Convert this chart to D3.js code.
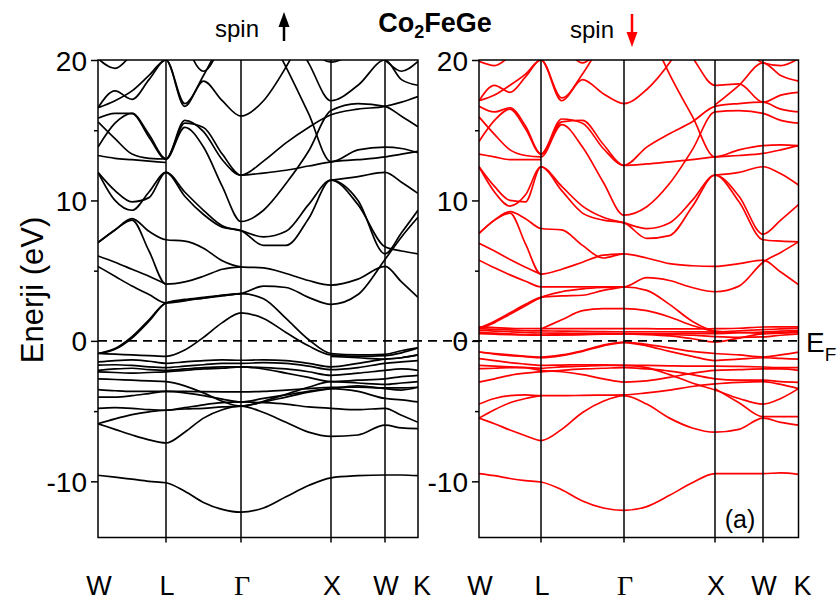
<!DOCTYPE html>
<html><head><meta charset="utf-8">
<script src="https://cdn.jsdelivr.net/npm/d3@7"></script>
<style>body{margin:0;background:#fff} svg{display:block}</style>
</head><body>
<svg id="c" width="840" height="605"></svg>
<script>
const N = null;
// high-symmetry path and sampling grid (in segment units: W=0, L=1, Γ=2, X=3, W=4, K=5)
const kLabels = ["W", "L", "Γ", "X", "W", "K"];
const kGrid = [0, 0.25, 0.5, 0.75, 1, 1.25, 1.5, 1.75, 2, 2.25, 2.5, 2.75, 3, 3.5, 4, 4.5, 5];
const yTicks = [-10, 0, 10, 20];
const yMinorTicks = [-5, 5, 15];

// spin-up bands (eV) at kGrid
const upBands = [
  [20.1, 19.4, 20.4, 21.5, N, N, N, N, N, N, N, N, N, N, N, N, N],
  [N, N, N, N, N, N, N, N, N, N, N, 21, 19.85, 20.6, 21.5, N, N],
  [N, N, N, N, N, N, N, N, N, N, 22.5, 19.8, 17.1, 18.2, 20.0, 18.6, 18.2],
  [N, N, N, N, N, N, N, N, N, N, N, N, N, 22, 20.0, 19.2, 19.9],
  [16.6, 17.8, 17.2, 18.6, 20.0, 16.9, 18.9, 21.5, N, N, N, N, N, N, N, N, N],
  [16.6, 17.1, 17.8, 18.9, 20.0, 16.7, 18.5, 17.1, 16.0, 17.1, 19.5, 22.5, N, N, N, N, N],
  [N, N, N, N, N, 21.5, 19.2, 21.5, N, N, N, N, N, N, N, N, N],
  [15.85, 16.2, 16.2, 14.7, 12.95, 15.5, 15.2, 13.3, 11.8, 11.95, 12.15, 12.45, 12.75, 12.9, 13.1, 13.3, 13.5],
  [13.8, 15.5, 16.2, 14.5, 12.95, 15.7, 14.9, 12.9, 11.8, 12.8, 14.1, 15.2, 16.1, 16.5, 16.7, 17.0, 17.4],
  [15.6, 14.4, 13.3, 13.0, 12.95, 15.2, 13.8, 11.0, 8.5, 9.3, 11.2, 13.5, 16.4, 16.9, 16.7, 16.0, 15.25],
  [13.2, 13.0, 12.9, 12.8, 12.7, N, N, N, N, N, N, N, N, N, N, N, N],
  [N, N, N, N, N, N, N, N, N, 22.5, 19.5, 16.2, 12.75, 13.6, 13.8, 13.7, 13.4],
  [N, N, N, N, N, N, N, N, N, N, N, N, 11.45, 11.7, 12.0, 11.3, 10.5],
  [12.0, 10.0, 9.3, 10.6, 12.0, 10.3, 9.0, 8.1, 7.85, 6.8, 6.8, 8.7, 11.45, 9.7, 6.7, 6.4, 6.2],
  [12.0, 10.7, 9.9, 10.2, 12.0, 10.6, 9.3, 8.2, 7.85, 7.4, 7.8, 9.7, 11.45, 10.0, 6.2, 7.7, 9.3],
  [7.0, 7.9, 8.7, 7.8, 7.2, 7.1, 6.6, 5.7, 5.27, 5.2, 4.8, 4.3, 3.97, 4.4, 5.3, 4.2, 3.1],
  [7.0, 7.9, 8.6, 6.4, 4.04, 4.2, 4.6, 5.1, 5.27, N, N, N, N, N, N, N, N],
  [6.05, 5.6, 5.1, 4.6, 4.04, N, N, N, N, N, N, N, N, N, N, N, N],
  [5.3, 4.6, 3.9, 3.3, 2.7, 2.85, 3.05, 3.25, 3.37, 3.9, 3.8, 3.1, 2.6, 3.3, 5.8, 7.4, 8.8],
  [-0.9, -0.55, 0.3, 1.5, 2.7, 2.9, 3.05, 3.2, 3.37, 3.0, 1.6, 0.1, -0.9, -1.0, -0.95, -0.7, -0.5],
  [-0.9, -0.6, 0.2, 1.4, 2.7, 2.95, 3.1, 3.25, 3.37, N, N, N, N, N, N, N, N],
  [-0.9, -0.95, -1.0, -1.05, -1.1, -0.65, 0.25, 1.3, 2.0, 1.6, 0.6, -0.35, -1.0, -1.1, -1.05, -0.85, -0.5],
  [-9.57, -9.7, -9.85, -10.0, -10.1, -10.7, -11.5, -12.0, -12.2, -11.9, -11.1, -10.3, -9.75, -9.6, -9.55, -9.55, -9.6],
  [-5.9, -6.3, -6.7, -7.05, -7.27, -6.5, -5.5, -4.9, -4.65, -5.1, -5.8, -6.5, -6.8, -6.7, -6.0, -6.2, -6.25],
  [-5.9, -5.55, -5.25, -5.05, -4.94, -4.85, -4.8, -4.7, -4.65, -4.35, -4.0, -3.65, -3.4, -3.2, -3.4, -3.5, -3.3],
  [-4.8, -4.75, -4.8, -4.9, -4.94, -4.75, -4.55, -4.4, -4.35, -4.4, -4.5, -4.7, -4.8, -4.9, -4.8, -5.3, -5.8],
  [-3.47, -3.55, -3.6, -3.6, -3.6, -3.6, -3.62, -3.63, -3.63, -3.6, -3.5, -3.4, -3.3, -3.3, -3.35, -3.35, -3.3],
  [-4.0, -4.0, -3.9, -3.75, -3.6, -3.7, -3.9, -4.15, -4.35, -4.1, -3.85, -3.6, -3.4, -3.6, -4.1, -4.2, -4.35],
  [-2.7, -2.75, -2.8, -2.85, -2.9, -3.2, -3.7, -4.3, -4.65, -4.3, -3.8, -3.3, -2.9, -3.0, -3.1, -3.0, -2.9],
  [-1.5, -1.4, -1.35, -1.45, -1.6, -1.5, -1.4, -1.35, -1.38, -1.35, -1.4, -1.6, -1.85, -1.6, -1.3, -1.2, -1.0],
  [-1.73, -1.7, -1.75, -1.85, -1.9, -1.8, -1.7, -1.6, -1.6, -1.55, -1.6, -1.8, -2.05, -1.9, -1.6, -1.5, -1.4],
  [-2.1, -2.0, -1.95, -2.05, -2.1, -2.0, -1.9, -1.85, -1.85, -1.9, -2.0, -2.2, -2.45, -2.3, -2.1, -2.0, -2.1],
  [-2.2, -2.25, -2.3, -2.25, -2.2, -2.1, -2.0, -1.95, -1.85, -2.0, -2.3, -2.6, -2.9, -2.8, -2.7, -2.55, -2.45],
  [N, N, N, N, N, N, N, N, N, N, N, N, -1.1, -1.2, -1.3, -1.2, -1.0]
];

// spin-down bands (eV) at kGrid
const downBands = [
  [19.9, 19.6, 20.3, 21.5, N, N, N, N, N, N, N, N, N, N, N, N, N],
  [17.1, 18.2, 17.7, 18.8, 20.0, 17.3, 19.0, 21.5, N, N, N, N, N, N, N, N, N],
  [17.1, 17.5, 18.2, 19.0, 20.0, 17.1, 18.6, 17.6, 16.9, 17.9, 19.8, 22.5, N, N, N, N, N],
  [N, N, N, N, N, 21.5, 19.8, 21.5, N, N, N, N, N, N, N, N, N],
  [16.7, 16.3, 16.6, 15.3, 13.3, 15.6, 15.7, 14.0, 12.5, 12.6, 12.75, 12.9, 13.1, 13.2, 13.35, 13.6, 13.9],
  [14.2, 15.7, 16.5, 15.1, 13.3, 15.8, 15.5, 13.7, 12.5, 13.8, 14.75, 15.6, 16.7, 16.9, 17.0, 16.5, 16.3],
  [15.95, 14.7, 13.6, 13.2, 13.1, 15.4, 13.8, 11.3, 8.95, 9.55, 11.2, 13.6, 16.3, 16.4, 16.2, 15.7, 15.5],
  [13.3, 13.1, 12.9, 12.9, 12.9, N, N, N, N, N, N, N, N, N, N, N, N],
  [12.4, 10.6, 9.6, 10.4, 12.4, 10.7, 9.1, 8.6, 8.4, 7.3, 7.5, 9.55, 11.8, 9.9, 7.2, 7.1, 7.05],
  [12.4, 11.0, 10.0, 9.9, 12.4, 11.0, 9.6, 8.8, 8.4, 8.0, 8.4, 10.0, 11.8, 10.3, 7.6, 8.6, 9.7],
  [N, N, N, N, N, N, N, N, N, 22.5, 19.0, 16.0, 13.1, 13.6, 13.9, 13.95, 13.9],
  [N, N, N, N, N, N, N, N, N, N, N, N, 11.8, 12.0, 12.4, 11.9, 11.1],
  [N, N, N, N, N, N, N, N, N, N, 22.5, 20.2, 18.2, 18.3, 17.0, 17.5, 17.7],
  [N, N, N, N, N, N, N, N, N, N, N, N, 16.8, 18.2, 19.8, 18.9, 18.5],
  [N, N, N, N, N, N, N, N, N, N, N, N, N, 21.5, 19.8, 19.6, 20.1],
  [7.65, 8.6, 9.2, 8.7, 8.0, 7.9, 6.8, 5.9, 6.2, 5.9, 5.5, 5.35, 5.3, 5.5, 5.75, 4.9, 4.0],
  [7.65, 8.6, 9.1, 6.9, 4.75, 5.1, 5.6, 6.1, 6.2, N, N, N, N, N, N, N, N],
  [6.95, 6.4, 5.8, 5.25, 4.75, N, N, N, N, N, N, N, N, N, N, N, N],
  [5.75, 5.2, 4.7, 4.25, 3.85, 3.85, 3.85, 3.85, 3.85, 4.5, 4.3, 3.8, 3.5, 3.9, 5.6, 6.3, 7.05],
  [0.9, 1.4, 2.0, 2.6, 3.1, 3.2, 3.25, 3.6, 3.85, N, N, N, N, N, N, N, N],
  [0.85, 1.3, 1.9, 2.5, 3.1, 3.5, 3.7, 3.8, 3.85, 3.6, 2.6, 1.4, 0.7, 0.6, 0.55, 0.6, 0.7],
  [N, N, N, N, 0.85, 1.5, 2.15, 2.3, 2.3, 2.15, 1.7, 1.1, 0.65, N, N, N, N],
  [1.0, 0.95, 0.9, 0.88, 0.87, 0.87, 0.87, 0.87, 0.87, 0.87, 0.85, 0.85, 0.87, 0.9, 0.99, 1.0, 1.0],
  [0.87, 0.82, 0.78, 0.74, 0.71, 0.7, 0.68, 0.66, 0.65, 0.65, 0.65, 0.64, 0.63, 0.72, 0.8, 0.85, 0.9],
  [0.75, 0.7, 0.65, 0.6, 0.56, 0.55, 0.54, 0.53, 0.52, 0.52, 0.52, 0.52, 0.52, 0.58, 0.63, 0.7, 0.75],
  [0.6, 0.55, 0.5, 0.45, 0.42, 0.44, 0.46, 0.48, 0.5, 0.45, 0.35, 0.15, -0.08, 0.2, 0.5, 0.55, 0.6],
  [0.52, 0.48, 0.44, 0.42, 0.4, 0.42, 0.45, 0.5, 0.52, 0.5, 0.45, 0.4, 0.3, 0.25, 0.28, 0.4, 0.5],
  [-0.79, -0.9, -1.0, -1.1, -1.15, -1.0, -0.7, -0.3, -0.08, -0.25, -0.5, -0.75, -0.9, -1.0, -1.15, -1.0, -0.8],
  [-0.79, -0.95, -1.05, -1.12, -1.2, -1.05, -0.75, -0.35, -0.12, -0.35, -0.75, -1.1, -1.4, -1.3, -1.2, -1.25, -1.3],
  [-1.26, -1.4, -1.55, -1.65, -1.74, -1.72, -1.7, -1.7, -1.74, -1.75, -1.78, -1.8, -1.8, -1.82, -1.86, -1.9, -1.9],
  [-1.74, -1.8, -1.85, -1.9, -2.1, -2.2, -2.4, -2.7, -2.93, -2.85, -2.6, -2.3, -2.1, -2.05, -2.0, -2.0, -2.1],
  [-1.98, -1.95, -1.9, -1.9, -1.95, -1.85, -1.8, -1.75, -1.74, -1.9, -2.4, -3.0, -3.5, -4.1, -4.5, -4.1, -3.4],
  [-2.93, -2.7, -2.45, -2.3, -2.2, -2.1, -2.0, -1.95, -1.9, -2.0, -2.15, -2.4, -2.7, -2.8, -2.8, -2.9, -2.95],
  [-4.5, -4.1, -3.9, -3.85, -3.9, -3.9, -3.88, -3.86, -3.85, -3.7, -3.5, -3.25, -3.06, -2.95, -2.9, -3.1, -3.4],
  [-5.5, -4.9, -4.4, -4.1, -3.9, N, N, N, N, N, N, N, N, N, N, N, N],
  [-5.5, -5.9, -6.35, -6.75, -7.1, -6.3, -5.1, -4.3, -3.9, -4.5, -5.5, -6.2, -6.5, -6.3, -5.5, -5.8, -6.0],
  [N, N, N, N, N, N, N, N, N, N, N, N, -3.4, -4.4, -5.4, -5.4, -5.4],
  [-9.45, -9.6, -9.8, -9.95, -10.05, -10.6, -11.4, -11.9, -12.07, -11.8, -11.0, -10.1, -9.45, -9.45, -9.45, -9.4, -9.5]
];

const svg = d3.select("#c");
const FONT = "'Liberation Sans', Arial, sans-serif";
const y = d3.scaleLinear().domain([-14, 20]).range([537.5, 60]);

const panels = [
  { id: "up", bands: upBands, color: "#000", xr: [98, 166, 241, 331, 385, 418] },
  { id: "dn", bands: downBands, color: "#ff0000", xr: [479, 541, 624, 715, 763, 798.5] }
];

panels.forEach(p => {
  const x = d3.scaleLinear().domain([0, 1, 2, 3, 4, 5]).range(p.xr);
  const x0 = p.xr[0], x1 = p.xr[5];
  svg.append("clipPath").attr("id", "clip-" + p.id)
    .append("rect").attr("x", x0).attr("y", y(20)).attr("width", x1 - x0).attr("height", y(-14) - y(20));
  const g = svg.append("g");
  const line = d3.line()
    .defined(d => d[1] !== null)
    .x(d => x(d[0])).y(d => y(d[1]))
    .curve(d3.curveMonotoneX);
  g.append("g").attr("clip-path", `url(#clip-${p.id})`)
    .selectAll("path").data(p.bands).join("path")
    .attr("d", b => line(b.map((v, i) => [kGrid[i], v])))
    .attr("fill", "none").attr("stroke", p.color).attr("stroke-width", 1.7);
  // high-symmetry vertical lines
  g.selectAll("line.v").data([1, 2, 3, 4]).join("line")
    .attr("x1", d => x(d)).attr("x2", d => x(d))
    .attr("y1", y(20)).attr("y2", y(-14) + 5)
    .attr("stroke", "#000").attr("stroke-width", 1.5);
  // frame
  g.append("rect").attr("x", x0).attr("y", y(20)).attr("width", x1 - x0).attr("height", y(-14) - y(20))
    .attr("fill", "none").attr("stroke", "#000").attr("stroke-width", 1.5);
  // y axis
  const ax = g.append("g").attr("transform", `translate(${x0},0)`)
    .call(d3.axisLeft(y).tickValues(yTicks).tickSize(7).tickSizeOuter(0).tickFormat(d => String(d)));
  ax.select(".domain").remove();
  ax.selectAll("line").attr("stroke-width", 1.5);
  ax.selectAll("text").attr("font-family", FONT).attr("font-size", 28).attr("fill", "#000").attr("dx", -1).attr("dy", "0.36em");
  const axm = g.append("g").attr("transform", `translate(${x0},0)`)
    .call(d3.axisLeft(y).tickValues(yMinorTicks).tickSize(4).tickSizeOuter(0).tickFormat(""));
  axm.select(".domain").remove();
  axm.selectAll("line").attr("stroke-width", 1.5);
  // k labels
  g.selectAll("text.k").data(kLabels).join("text")
    .attr("x", (d, i) => x(i) + (i === 5 ? 4 : 1)).attr("y", 595)
    .attr("text-anchor", "middle")
    .attr("font-family", d => d === "Γ" ? "'Liberation Serif', 'Times New Roman', serif" : FONT)
    .attr("font-size", d => d === "Γ" ? 28 : 27)
    .text(d => d);
});

// Fermi level
svg.append("line").attr("x1", 98).attr("x2", 801).attr("y1", y(0)).attr("y2", y(0))
  .attr("stroke", "#000").attr("stroke-width", 1.6).attr("stroke-dasharray", "9,6");
const ef = svg.append("text").attr("x", 806).attr("y", 352).attr("font-family", FONT).attr("font-size", 28);
ef.append("tspan").text("E");
ef.append("tspan").attr("font-size", 19).attr("dy", 9).text("F");

// y label
svg.append("text").attr("transform", "translate(43,290) rotate(-90)")
  .attr("text-anchor", "middle").attr("font-family", FONT).attr("font-size", 31).text("Enerji (eV)");

// title
const t = svg.append("text").attr("x", 435).attr("y", 32).attr("text-anchor", "middle")
  .attr("font-family", FONT).attr("font-weight", "bold").attr("font-size", 27);
t.append("tspan").text("Co");
t.append("tspan").attr("font-size", 18).attr("dy", 6).text("2");
t.append("tspan").attr("dy", -6).text("FeGe");

// spin labels
svg.append("text").attr("x", 237).attr("y", 37).attr("text-anchor", "middle")
  .attr("font-family", FONT).attr("font-size", 24).text("spin");
svg.append("text").attr("x", 592).attr("y", 38).attr("text-anchor", "middle")
  .attr("font-family", FONT).attr("font-size", 24).text("spin");
// arrows
svg.append("line").attr("x1", 284).attr("x2", 284).attr("y1", 41).attr("y2", 22).attr("stroke", "#000").attr("stroke-width", 2.5);
svg.append("path").attr("d", "M284,12 L278.5,27 L289.5,27 Z").attr("fill", "#000");
svg.append("line").attr("x1", 632).attr("x2", 632).attr("y1", 14).attr("y2", 36).attr("stroke", "#ff0000").attr("stroke-width", 2.5);
svg.append("path").attr("d", "M632,47 L626.5,32 L637.5,32 Z").attr("fill", "#ff0000");

// panel tag
svg.append("text").attr("x", 740).attr("y", 528).attr("text-anchor", "middle")
  .attr("font-family", FONT).attr("font-size", 25).text("(a)");
</script>
</body></html>
